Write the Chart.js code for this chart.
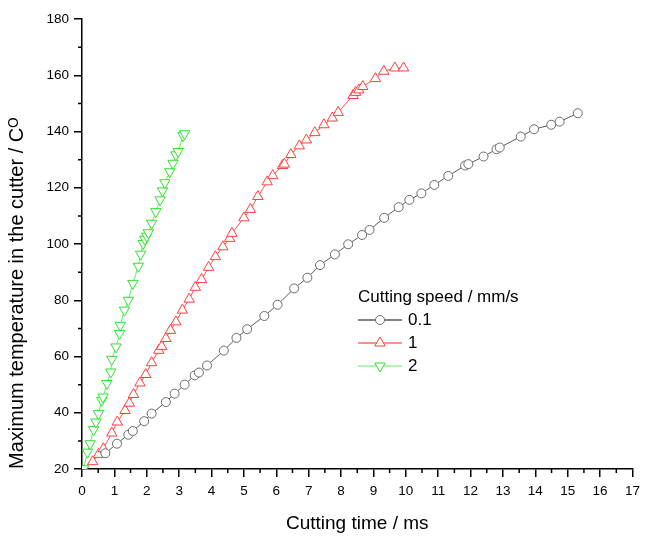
<!DOCTYPE html>
<html>
<head>
<meta charset="utf-8">
<script src="https://cdn.jsdelivr.net/npm/chart.js@4.4.0/dist/chart.umd.min.js"></script>
<style>
  html, body { margin: 0; padding: 0; background: #fff; }
  #wrap { width: 646px; height: 536px; }
</style>
</head>
<body>
<div id="wrap"><canvas id="chart" width="646" height="536"></canvas></div>
<script>
// cutting speeds (mm/s)
const speeds = ['0.1', '1', '2'];

// 0.1 mm/s
const time01 = [0.72, 1.08, 1.43, 1.57, 1.92, 2.15, 2.59, 2.86, 3.17, 3.48, 3.61, 3.86, 4.38, 4.77, 5.10, 5.63, 6.04,
  6.55, 6.96, 7.35, 7.81, 8.22, 8.65, 8.88, 9.33, 9.78, 10.11, 10.48, 10.88, 11.31, 11.83, 11.93, 12.40, 12.80, 12.90,
  13.55, 13.96, 14.49, 14.75, 15.31];
const temp01 = [25.6, 29.0, 32.2, 33.5, 37.0, 39.7, 43.8, 46.8, 50.0, 53.3, 54.3, 56.8, 62.1, 66.6, 69.7, 74.4, 78.4,
  84.2, 88.0, 92.5, 96.3, 99.9, 103.2, 105.0, 109.3, 113.1, 115.7, 118.0, 121.0, 124.2, 127.9, 128.4, 131.1, 133.7, 134.3,
  138.2, 140.8, 142.4, 143.5, 146.5];

// 1 mm/s
const time1 = [0.33, 0.51, 0.66, 0.92, 1.09, 1.33, 1.46, 1.59, 1.79, 1.97, 2.15, 2.37, 2.46, 2.59, 2.73, 2.90, 3.10,
  3.31, 3.50, 3.69, 3.91, 4.12, 4.35, 4.56, 4.63, 5.00, 5.20, 5.43, 5.72, 5.89, 6.19, 6.25, 6.45, 6.71, 6.93, 7.19,
  7.47, 7.73, 7.91, 8.37, 8.45, 8.55, 8.67, 9.06, 9.32, 9.66, 9.93];
const temp1 = [22.6, 25.2, 27.2, 32.8, 36.7, 40.8, 43.4, 46.5, 50.6, 53.6, 57.8, 62.2, 63.6, 66.4, 69.3, 72.3, 76.5,
  80.4, 84.6, 87.4, 91.7, 95.5, 99.0, 102.0, 103.8, 109.3, 112.3, 116.9, 122.1, 124.3, 127.9, 128.4, 131.8, 134.9, 137.0, 139.6,
  142.4, 144.8, 146.8, 152.8, 153.9, 154.8, 156.0, 158.8, 161.4, 162.6, 162.6];

// 2 mm/s
const time2 = [0.05, 0.17, 0.25, 0.36, 0.43, 0.51, 0.61, 0.65, 0.77, 0.89, 0.92, 1.05, 1.16, 1.18, 1.31, 1.43, 1.57,
  1.74, 1.81, 1.89, 1.94, 2.00, 2.05, 2.15, 2.28, 2.41, 2.49, 2.56, 2.71, 2.81, 2.90, 2.97, 3.12, 3.17];
const temp2 = [20.1, 26.0, 29.0, 34.0, 36.7, 39.7, 44.4, 45.6, 50.4, 54.5, 59.0, 63.4, 68.2, 71.1, 76.5, 80.0, 86.0,
  92.1, 96.4, 100.2, 101.7, 102.8, 104.0, 107.4, 111.5, 115.7, 118.9, 121.8, 125.7, 128.7, 131.7, 132.9, 138.5, 139.2];

const xLimits = [0, 17];
const yLimits = [20, 180];
const xTitle = 'Cutting time / ms';
const yTitle = 'Maximum temperature in the cutter / C\u1D3C';
const legendTitle = 'Cutting speed / mm/s';

const FONT = '"Liberation Sans", Arial, sans-serif';

function pairs(xs, ys) {
  return xs.map((x, i) => ({ x: x, y: ys[i] }));
}

// short ticks between the labelled ones
const minorTicks = {
  id: 'minorTicks',
  afterDraw(chart) {
    const { ctx, scales: { x, y } } = chart;
    ctx.save();
    ctx.strokeStyle = '#000';
    ctx.lineWidth = 1.5;
    ctx.beginPath();
    for (let v = xLimits[0] + 0.5; v < xLimits[1]; v += 1) {
      const px = x.getPixelForValue(v);
      ctx.moveTo(px, x.top);
      ctx.lineTo(px, x.top + 4);
    }
    for (let v = yLimits[0] + 10; v < yLimits[1]; v += 20) {
      const py = y.getPixelForValue(v);
      ctx.moveTo(y.right, py);
      ctx.lineTo(y.right - 4, py);
    }
    ctx.stroke();
    ctx.restore();
  }
};

// legend inside the plot, line + marker samples like the original
const speedLegend = {
  id: 'speedLegend',
  afterDraw(chart) {
    const { ctx, chartArea } = chart;
    const left = chartArea.left + 276;
    const top = chartArea.top + 278;
    ctx.save();
    ctx.font = '17px ' + FONT;
    ctx.textBaseline = 'middle';
    ctx.fillStyle = '#000';
    ctx.fillText(legendTitle, left, top);
    chart.data.datasets.forEach((ds, i) => {
      const cy = top + 23 * (i + 1);
      ctx.strokeStyle = ds.legendLine;
      ctx.lineWidth = 1.5;
      ctx.beginPath();
      ctx.moveTo(left, cy);
      ctx.lineTo(left + 44, cy);
      ctx.stroke();
      ctx.fillStyle = '#fff';
      ctx.strokeStyle = ds.pointBorderColor;
      ctx.lineWidth = ds.pointBorderWidth;
      Chart.helpers.drawPoint(ctx, {
        pointStyle: ds.pointStyle,
        rotation: ds.pointRotation || 0,
        radius: ds.pointRadius,
        borderWidth: ds.pointBorderWidth
      }, left + 22, cy);
      ctx.fillStyle = '#000';
      ctx.fillText(ds.label, left + 50, cy);
    });
    ctx.restore();
  }
};

const ctx = document.getElementById('chart').getContext('2d');

const chart = new Chart(ctx, {
  type: 'line',
  data: {
    datasets: [
      {
        label: speeds[0],
        data: pairs(time01, temp01),
        borderColor: '#5a5a5a',
        legendLine: '#5a5a5a',
        borderWidth: 1,
        pointStyle: 'circle',
        pointRadius: 4.5,
        pointBorderColor: '#6a6a6a',
        pointBackgroundColor: '#fff',
        pointBorderWidth: 1,
        tension: 0
      },
      {
        label: speeds[1],
        data: pairs(time1, temp1),
        borderColor: '#ff5050',
        legendLine: '#ff6a6a',
        borderWidth: 1,
        pointStyle: 'triangle',
        pointRadius: 6,
        pointBorderColor: '#ff4040',
        pointBackgroundColor: '#fff',
        pointBorderWidth: 1,
        tension: 0
      },
      {
        label: speeds[2],
        data: pairs(time2, temp2),
        borderColor: '#60ee60',
        legendLine: '#9cef9c',
        borderWidth: 1,
        pointStyle: 'triangle',
        pointRotation: 180,
        pointRadius: 6,
        pointBorderColor: '#30e030',
        pointBackgroundColor: '#fff',
        pointBorderWidth: 1,
        tension: 0
      }
    ]
  },
  options: {
    responsive: false,
    animation: false,
    layout: { padding: { top: 19, right: 11, left: 0, bottom: 0 } },
    plugins: {
      legend: { display: false },
      tooltip: { enabled: false }
    },
    scales: {
      x: {
        type: 'linear',
        min: xLimits[0],
        max: xLimits[1],
        afterFit: (scale) => { scale.height = 67; },
        border: { display: true, color: '#000', width: 1.5 },
        grid: { drawOnChartArea: false, color: '#000', tickLength: 8, lineWidth: 1.5 },
        ticks: { stepSize: 1, color: '#000', padding: 6, maxRotation: 0, font: { family: FONT, size: 13.5 } },
        title: { display: true, text: xTitle, color: '#000', padding: { top: 0, bottom: 1 }, font: { family: FONT, size: 19 } }
      },
      y: {
        type: 'linear',
        min: yLimits[0],
        max: yLimits[1],
        afterFit: (scale) => { scale.width = 82; },
        border: { display: true, color: '#000', width: 1.5 },
        grid: { drawOnChartArea: false, color: '#000', tickLength: 8, lineWidth: 1.5 },
        ticks: { stepSize: 20, color: '#000', padding: 5, font: { family: FONT, size: 13.5 } },
        title: { display: true, text: yTitle, align: 'start', color: '#000', padding: { top: 5, bottom: 0 }, font: { family: FONT, size: 20 } }
      }
    }
  },
  plugins: [minorTicks, speedLegend]
});
</script>
</body>
</html>
